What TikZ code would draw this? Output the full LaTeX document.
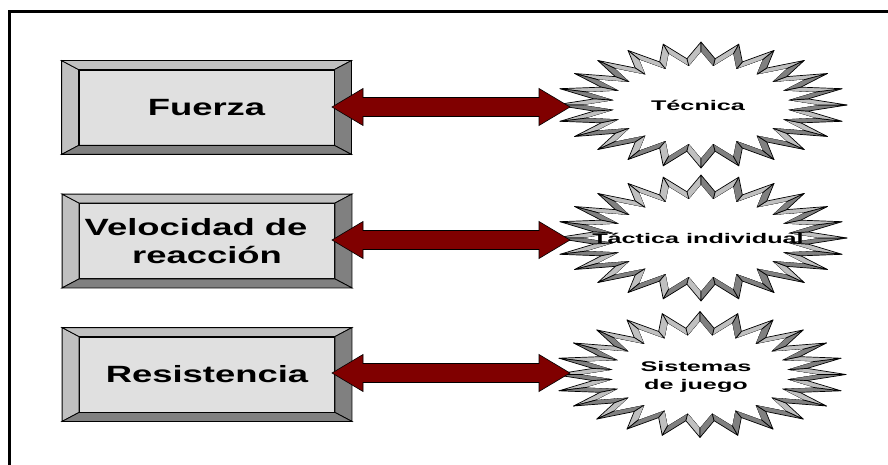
\documentclass[tikz,border=0pt]{standalone}
\usepackage{fontspec}
\setmainfont{Liberation Sans}
\usetikzlibrary{calc}
\definecolor{arrowred}{RGB}{128,0,0}
\definecolor{bevlight}{RGB}{192,192,192}
\definecolor{bevdark}{RGB}{128,128,128}
\definecolor{facegray}{RGB}{224,224,224}

\def\stS{1.7}    % horizontal stretch
\def\stA{85.88}  % unstretched half width
\def\stB{63}     % half height
\def\stR{0.74}   % inner radius ratio
\def\stD{4.4}    % band thickness

% 3-D 24-point star: #1 cx, #2 cy, #3 name
\newcommand{\burstshape}[3]{%
  \coordinate (#3) at (#1,#2);
  \foreach \k in {0,...,47}{%
    \pgfmathsetmacro{\th}{90+7.5*\k}%
    \pgfmathsetmacro{\ro}{mod(\k,2)==1 ? \stR : 1}%
    \pgfmathsetmacro{\rn}{mod(\k,2)==1 ? 1 : \stR}%
    \pgfmathsetmacro{\Uo}{\stA*\ro*cos(\th)}%
    \pgfmathsetmacro{\Vo}{\stB*\ro*sin(\th)}%
    \pgfmathsetmacro{\Um}{\stA*\rn*cos(\th-7.5)}%
    \pgfmathsetmacro{\Vm}{\stB*\rn*sin(\th-7.5)}%
    \pgfmathsetmacro{\Up}{\stA*\rn*cos(\th+7.5)}%
    \pgfmathsetmacro{\Vp}{\stB*\rn*sin(\th+7.5)}%
    \pgfmathsetmacro{\la}{veclen(\Uo-\Um,\Vo-\Vm)}%
    \pgfmathsetmacro{\lb}{veclen(\Up-\Uo,\Vp-\Vo)}%
    \pgfmathsetmacro{\nax}{-(\Vo-\Vm)/\la}%
    \pgfmathsetmacro{\nay}{(\Uo-\Um)/\la}%
    \pgfmathsetmacro{\nbx}{-(\Vp-\Vo)/\lb}%
    \pgfmathsetmacro{\nby}{(\Up-\Uo)/\lb}%
    \pgfmathsetmacro{\dt}{1+\nax*\nbx+\nay*\nby}%
    \pgfmathsetmacro{\Qu}{\Uo+\stD*(\nax+\nbx)/\dt}%
    \pgfmathsetmacro{\Qv}{\Vo+\stD*(\nay+\nby)/\dt}%
    \coordinate (#3-p\k) at ({#1+\stS*\Uo},{#2-\Vo});
    \coordinate (#3-q\k) at ({#1+\stS*\Qu},{#2-\Qv});
  }
  \foreach \k in {0,...,47}{%
    \pgfmathtruncatemacro{\nx}{mod(\k+1,48)}%
    \pgfmathsetmacro{\th}{90+7.5*\k}%
    \pgfmathsetmacro{\ro}{mod(\k,2)==1 ? \stR : 1}%
    \pgfmathsetmacro{\rn}{mod(\k,2)==1 ? 1 : \stR}%
    \pgfmathsetmacro{\dx}{\stS*\stA*(\rn*cos(\th+7.5)-\ro*cos(\th))}%
    \pgfmathsetmacro{\dy}{-\stB*(\rn*sin(\th+7.5)-\ro*sin(\th))}%
    \pgfmathtruncatemacro{\lit}{(\dx-\dy)<0 ? 1 : 0}%
    \ifnum\lit=1 \def\bandcol{bevlight}\else\def\bandcol{bevdark}\fi
    \filldraw[fill=\bandcol, starline] (#3-p\k) -- (#3-p\nx) -- (#3-q\nx) -- (#3-q\k) -- cycle;
  }
  \fill[white] (#3-q0) \foreach \k in {1,...,47}{ -- (#3-q\k)} -- cycle;
}

% beveled box around a face node #1
\newcommand{\bevel}[1]{%
  \filldraw[fill=bevlight, boxline] (#1.north west) -- (#1.south west) -- ++(-17,9) -- ($(#1.north west)+(-17,-9)$) -- cycle;
  \filldraw[fill=bevlight, boxline] (#1.north west) -- (#1.north east) -- ++(17,-9) -- ($(#1.north west)+(-17,-9)$) -- cycle;
  \filldraw[fill=bevdark, boxline] (#1.north east) -- (#1.south east) -- ++(17,9) -- ($(#1.north east)+(17,-9)$) -- cycle;
  \filldraw[fill=bevdark, boxline] (#1.south west) -- (#1.south east) -- ++(17,9) -- ($(#1.south west)+(-17,9)$) -- cycle;
}

% double block arrow between two named coordinates
\newcommand{\dblarrow}[2]{%
  \filldraw[redarrow] (#1) -- ($(#1)+(31,-18.5)$) -- ($(#1)+(31,-9.5)$) -- ($(#2)+(-31,-9.5)$)
    -- ($(#2)+(-31,-18.5)$) -- (#2) -- ($(#2)+(-31,18.5)$) -- ($(#2)+(-31,9.5)$)
    -- ($(#1)+(31,9.5)$) -- ($(#1)+(31,18.5)$) -- cycle;
}

\begin{document}
\begin{tikzpicture}[x=1pt, y=-1pt,
  starline/.style={draw=black, line width=0.7pt, line join=round},
  boxline/.style={draw=black, line width=0.8pt},
  face/.style={fill=facegray, draw=black, line width=0.8pt, minimum width=255pt, minimum height=75pt, inner sep=0pt,
    font=\fontsize{23.5}{27.6}\selectfont\bfseries, align=center},
  startext/.style={font=\fontsize{14}{18}\selectfont\bfseries, align=center, inner sep=0pt},
  redarrow/.style={fill=arrowred, draw=black, line width=0.6pt, line join=miter}]
\useasboundingbox (0,0) rectangle (888,465);
\fill[white] (0,0) rectangle (888,465);

% frame
\draw[line width=2.8pt] (9.5,465) -- (9.5,11.5) -- (888,11.5);

% boxes
\node[face] (f1) at (206.5,107.5) {\scalebox{1.55}[1]{Fuerza}};
\bevel{f1}
\node[face] (f2) at (207,241) {\scalebox{1.55}[1]{Velocidad de\hspace*{0.6em}}\\\scalebox{1.55}[1]{reacción}};
\bevel{f2}
\node[face] (f3) at (207,374.5) {\scalebox{1.55}[1]{Resistencia}};
\bevel{f3}

% stars
\burstshape{701}{105}{s1}
\burstshape{701}{238}{s2}
\burstshape{700}{374.5}{s3}

% arrows
\coordinate (a1l) at (332,107);  \coordinate (a1r) at (570,107);
\coordinate (a2l) at (332,240);  \coordinate (a2r) at (570,240);
\coordinate (a3l) at (332,373);  \coordinate (a3r) at (570,373);
\dblarrow{a1l}{a1r}
\dblarrow{a2l}{a2r}
\dblarrow{a3l}{a3r}

% star texts
\node[startext] (t1) at ($(s1)+(-3,0)$) {\scalebox{1.8}[1]{Técnica}};
\node[startext] (t2) at ($(s2)+(-3,0)$) {\scalebox{1.8}[1]{Táctica individual}};
\node[startext] (t3) at ($(s3)+(-4,2)$) {\scalebox{1.8}[1]{Sistemas}\\\scalebox{1.8}[1]{de juego}};
\end{tikzpicture}
\end{document}
